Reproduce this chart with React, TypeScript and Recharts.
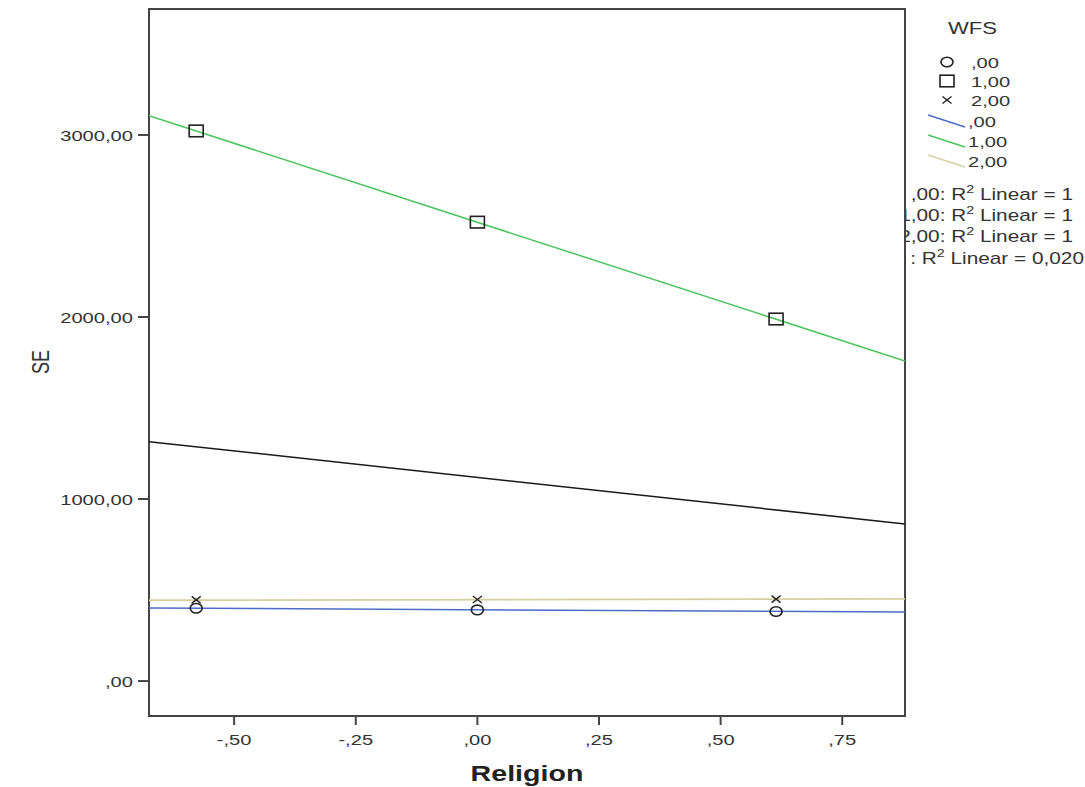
import { ComposedChart, Scatter, XAxis, YAxis, ReferenceArea } from "recharts";

// ---- Data ----

const X_TICKS = [-0.5, -0.25, 0, 0.25, 0.5, 0.75];
const Y_TICKS = [0, 1000, 2000, 3000];

const RELIGION = [-0.578, 0, 0.614];
const SE_WFS0 = [400, 391, 382];
const SE_WFS1 = [3022, 2521, 1989];
const SE_WFS2 = [446, 448, 450];

// fit lines, read at the left and right edge of the plot
const FIT_X = [-0.675, 0.879];
const FIT_WFS0 = [401, 379];
const FIT_WFS1 = [3106, 1758];
const FIT_WFS2 = [444, 451];
const FIT_TOTAL = [1315, 863];

const LEGEND_LABELS = [",00", "1,00", "2,00"];
const R2_LABELS = [",00: R", "1,00: R", "2,00: R", ": R"];
const R2_VALUES = ["1", "1", "1", "0,020"];

const X_MIN = -0.675;
const X_MAX = 0.879;
const Y_MIN = -192;
const Y_MAX = 3692;

// ---- Styling ----

const FONT = "'Liberation Sans', Arial, sans-serif";
const STRETCH = 1.3;
const COLORS = {
  wfs0: "#4e6bc6",
  wfs1: "#4cc45e",
  wfs2: "#d6d0a0",
  total: "#1a1a1a",
  frame: "#444",
  marker: "#222",
};

// ---- Helpers ----

function fmt(v: number): string {
  const s = v.toFixed(2).replace(".", ",");
  return s.replace(/^0,/, ",").replace(/^-0,/, "-,");
}

const pts = (ys: number[]) => RELIGION.map((x, i) => ({ x, y: ys[i] }));
const fit = (ys: number[]) => FIT_X.map((x, i) => ({ x, y: ys[i] }));

function XTick({ x, y, payload }: any) {
  return (
    <text
      transform={`translate(${x},${y + 16}) scale(${STRETCH},1)`}
      textAnchor="middle"
      fontSize={15.5}
      fontFamily={FONT}
      fill="#333"
    >
      {fmt(payload.value)}
    </text>
  );
}

function YTick({ x, y, payload }: any) {
  return (
    <text
      transform={`translate(${x},${y}) scale(${STRETCH},1)`}
      textAnchor="end"
      dy="0.36em"
      fontSize={15.5}
      fontFamily={FONT}
      fill="#333"
    >
      {fmt(payload.value)}
    </text>
  );
}

function CircleMark({ cx, cy }: any) {
  return <ellipse cx={cx} cy={cy} rx={6} ry={4.8} fill="none" stroke={COLORS.marker} strokeWidth={1.6} />;
}

function SquareMark({ cx, cy }: any) {
  return <rect x={cx - 7} y={cy - 5.8} width={14} height={11.6} fill="none" stroke={COLORS.marker} strokeWidth={1.6} />;
}

function CrossMark({ cx, cy }: any) {
  return (
    <g stroke={COLORS.marker} strokeWidth={1.4}>
      <line x1={cx - 4.5} y1={cy - 3.5} x2={cx + 4.5} y2={cy + 3.5} />
      <line x1={cx - 4.5} y1={cy + 3.5} x2={cx + 4.5} y2={cy - 3.5} />
    </g>
  );
}

const NoMark = () => <g />;

// ---- Overlay: axis titles + legend ----

function Overlay() {
  const txt = (x: number, y: number, s: string, size = 15.5, anchor = "start") => (
    <text
      transform={`translate(${x},${y}) scale(${STRETCH},1)`}
      fontSize={size}
      fontFamily={FONT}
      fill="#333"
      textAnchor={anchor as any}
    >
      {s}
    </text>
  );
  const markerRows = [62, 81, 100];
  const lineRows = [121, 141, 161];
  const lineColors = [COLORS.wfs0, COLORS.wfs1, COLORS.wfs2];
  const r2Rows = [200, 221, 242, 264];
  const r2Ends = [1073, 1073, 1073, 1084];
  return (
    <svg
      width={1085}
      height={787}
      style={{ position: "absolute", left: 0, top: 0, pointerEvents: "none" }}
    >
      <defs>
        <clipPath id="legendClip">
          <rect x={906} y={0} width={179} height={787} />
        </clipPath>
      </defs>
      {/* axis titles */}
      <text
        transform={`translate(41,362) scale(${STRETCH},1) rotate(-90)`}
        textAnchor="middle"
        dy="0.35em"
        fontSize={18}
        fontFamily={FONT}
        fill="#333"
      >
        SE
      </text>
      <text
        transform={`translate(527,781) scale(${STRETCH},1)`}
        textAnchor="middle"
        fontSize={22}
        fontWeight="bold"
        fontFamily={FONT}
        fill="#222"
      >
        Religion
      </text>

      {/* legend */}
      {txt(948, 34, "WFS", 17)}
      <CircleMark cx={947} cy={markerRows[0]} />
      <SquareMark cx={947} cy={markerRows[1]} />
      <CrossMark cx={947} cy={markerRows[2]} />
      {LEGEND_LABELS.map((l, i) => (
        <g key={"m" + i}>{txt(971, markerRows[i] + 5.5, l)}</g>
      ))}
      {LEGEND_LABELS.map((l, i) => (
        <g key={"l" + i}>
          <line
            x1={928}
            y1={lineRows[i] - 6}
            x2={965}
            y2={lineRows[i] + 6}
            stroke={lineColors[i]}
            strokeWidth={1.5}
          />
          {txt(968, lineRows[i] + 5.5, l)}
        </g>
      ))}
      <g clipPath="url(#legendClip)">
        {R2_LABELS.map((l, i) => (
          <text
            key={"r" + i}
            transform={`translate(${r2Ends[i]},${r2Rows[i]}) scale(${STRETCH},1)`}
            textAnchor="end"
            fontSize={16}
            fontFamily={FONT}
            fill="#333"
          >
            {l}
            <tspan fontSize={11} dy={-7}>2</tspan>
            <tspan dy={7}>{` Linear = ${R2_VALUES[i]}`}</tspan>
          </text>
        ))}
      </g>
    </svg>
  );
}

// ---- Component ----

export default function App() {
  return (
    <div style={{ position: "absolute", left: 0, top: 0, width: 1085, height: 787, background: "#fff" }}>
      <ComposedChart
        width={1085}
        height={787}
        margin={{ top: 9, right: 180, bottom: 0, left: 0 }}
      >
        <XAxis
          type="number"
          dataKey="x"
          domain={[X_MIN, X_MAX]}
          ticks={X_TICKS}
          allowDataOverflow
          height={71}
          tickSize={9}
          tickMargin={4}
          tick={<XTick />}
          axisLine={false}
          tickLine={{ stroke: COLORS.frame, strokeWidth: 2 }}
        />
        <YAxis
          type="number"
          dataKey="y"
          domain={[Y_MIN, Y_MAX]}
          ticks={Y_TICKS}
          allowDataOverflow
          width={149}
          tickSize={11}
          tickMargin={5}
          tick={<YTick />}
          axisLine={false}
          tickLine={{ stroke: COLORS.frame, strokeWidth: 2 }}
        />
        <ReferenceArea
          x1={X_MIN}
          x2={X_MAX}
          y1={Y_MIN}
          y2={Y_MAX}
          fill="none"
          fillOpacity={0}
          stroke={COLORS.frame}
          strokeWidth={2}
          ifOverflow="visible"
        />
        <Scatter data={fit(FIT_TOTAL)} line={{ stroke: COLORS.total, strokeWidth: 1.5 }} shape={NoMark} isAnimationActive={false} />
        <Scatter data={fit(FIT_WFS2)} line={{ stroke: COLORS.wfs2, strokeWidth: 1.8 }} shape={NoMark} isAnimationActive={false} />
        <Scatter data={fit(FIT_WFS0)} line={{ stroke: COLORS.wfs0, strokeWidth: 1.5 }} shape={NoMark} isAnimationActive={false} />
        <Scatter data={fit(FIT_WFS1)} line={{ stroke: COLORS.wfs1, strokeWidth: 1.5 }} shape={NoMark} isAnimationActive={false} />
        <Scatter data={pts(SE_WFS2)} shape={CrossMark} isAnimationActive={false} />
        <Scatter data={pts(SE_WFS0)} shape={CircleMark} isAnimationActive={false} />
        <Scatter data={pts(SE_WFS1)} shape={SquareMark} isAnimationActive={false} />
      </ComposedChart>
      <Overlay />
    </div>
  );
}
